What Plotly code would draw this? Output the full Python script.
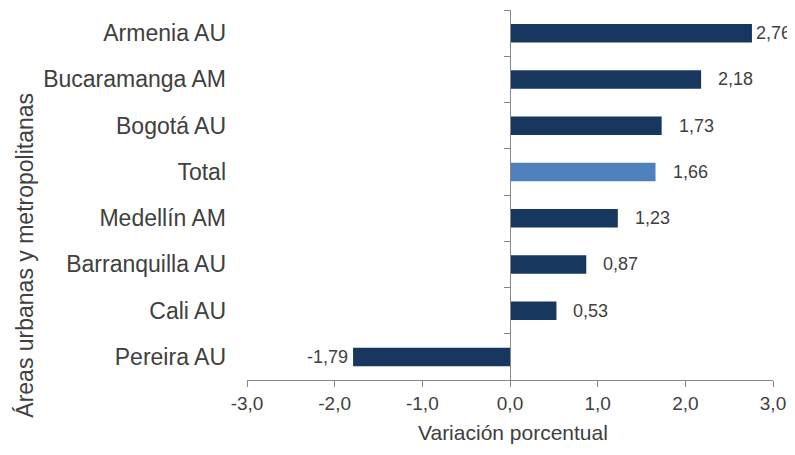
import plotly.graph_objects as go

categories = ["Armenia AU", "Bucaramanga AM", "Bogotá AU", "Total",
              "Medellín AM", "Barranquilla AU", "Cali AU", "Pereira AU"]
values = [2.76, 2.18, 1.73, 1.66, 1.23, 0.87, 0.53, -1.79]
x_ticks = [-3, -2, -1, 0, 1, 2, 3]
x_title = "Variación porcentual"
y_title = "Áreas urbanas y metropolitanas"

FONT = "Liberation Sans, Arial, sans-serif"
TXT = "#404040"
AX = "#868686"
DARK = "#17375e"
LIGHT = "#4f81bd"

# page body has an 8px margin; size the figure to fit the window
W, H = 787, 447
L, R, T, B = 239, 22, 2, 75
XMIN, XMAX = -3, 3
plot_w = W - L - R


def fmt(v, nd):
    return f"{v:.{nd}f}".replace(".", ",")


colors = [LIGHT if c == "Total" else DARK for c in categories]
labels = [fmt(v, 2) for v in values]
tick_text = [fmt(v, 1) for v in x_ticks]

fig = go.Figure()
fig.add_trace(go.Bar(
    x=values, y=categories, orientation="h",
    marker=dict(color=colors, line=dict(width=0)),
    width=0.4, hoverinfo="skip",
))
# invisible trace to carry the axis drawn at x = 0
fig.add_trace(go.Scatter(
    x=[0] * len(categories), y=categories, yaxis="y2",
    mode="markers", marker=dict(opacity=0), hoverinfo="skip", showlegend=False,
))

annotations = []
for c, v, lab in zip(categories, values, labels):
    px = (v - XMIN) / (XMAX - XMIN) * plot_w
    lab_w = 9 * len(lab)
    if v >= 0:
        shift = min(15, (W - 5) - L - px - lab_w)
        annotations.append(dict(x=v, y=c, xref="x", yref="y", text=lab,
                                showarrow=False, xanchor="left", xshift=shift,
                                font=dict(family=FONT, size=18, color=TXT)))
    else:
        annotations.append(dict(x=v, y=c, xref="x", yref="y", text=lab,
                                showarrow=False, xanchor="right", xshift=-3,
                                font=dict(family=FONT, size=18, color=TXT)))

annotations.append(dict(x=0.5, y=-0.143, xref="paper", yref="paper", text=x_title,
                        showarrow=False, xanchor="center", yanchor="middle",
                        xshift=3, font=dict(family=FONT, size=21, color=TXT)))
annotations.append(dict(x=0, y=0.336, xref="paper", yref="paper", text=y_title,
                        showarrow=False, textangle=-90, xanchor="center",
                        yanchor="middle", xshift=-222,
                        font=dict(family=FONT, size=23, color=TXT)))

fig.update_layout(
    width=W, height=H,
    margin=dict(l=L, r=R, t=T, b=B, autoexpand=False),
    paper_bgcolor="white", plot_bgcolor="white",
    showlegend=False,
    font=dict(family=FONT, color=TXT),
    xaxis=dict(
        range=[XMIN, XMAX], tickvals=x_ticks, ticktext=tick_text,
        showgrid=False, zeroline=False,
        showline=True, linecolor=AX, linewidth=1,
        ticks="outside", ticklen=6, tickcolor=AX,
        tickfont=dict(family=FONT, size=19, color=TXT),
        fixedrange=True,
    ),
    yaxis=dict(
        categoryorder="array", categoryarray=categories,
        autorange="reversed",
        showgrid=False, zeroline=False, showline=False,
        ticks="", ticklabelstandoff=20,
        tickfont=dict(family=FONT, size=23, color=TXT),
        fixedrange=True,
    ),
    yaxis2=dict(
        overlaying="y", matches="y", anchor="free", position=0.5, side="left",
        showgrid=False, zeroline=False, showticklabels=False,
        showline=True, linecolor=AX, linewidth=1,
        ticks="outside", tickson="boundaries", ticklen=6, tickcolor=AX,
        fixedrange=True,
    ),
    annotations=annotations,
)

fig.write_html("out.html")
